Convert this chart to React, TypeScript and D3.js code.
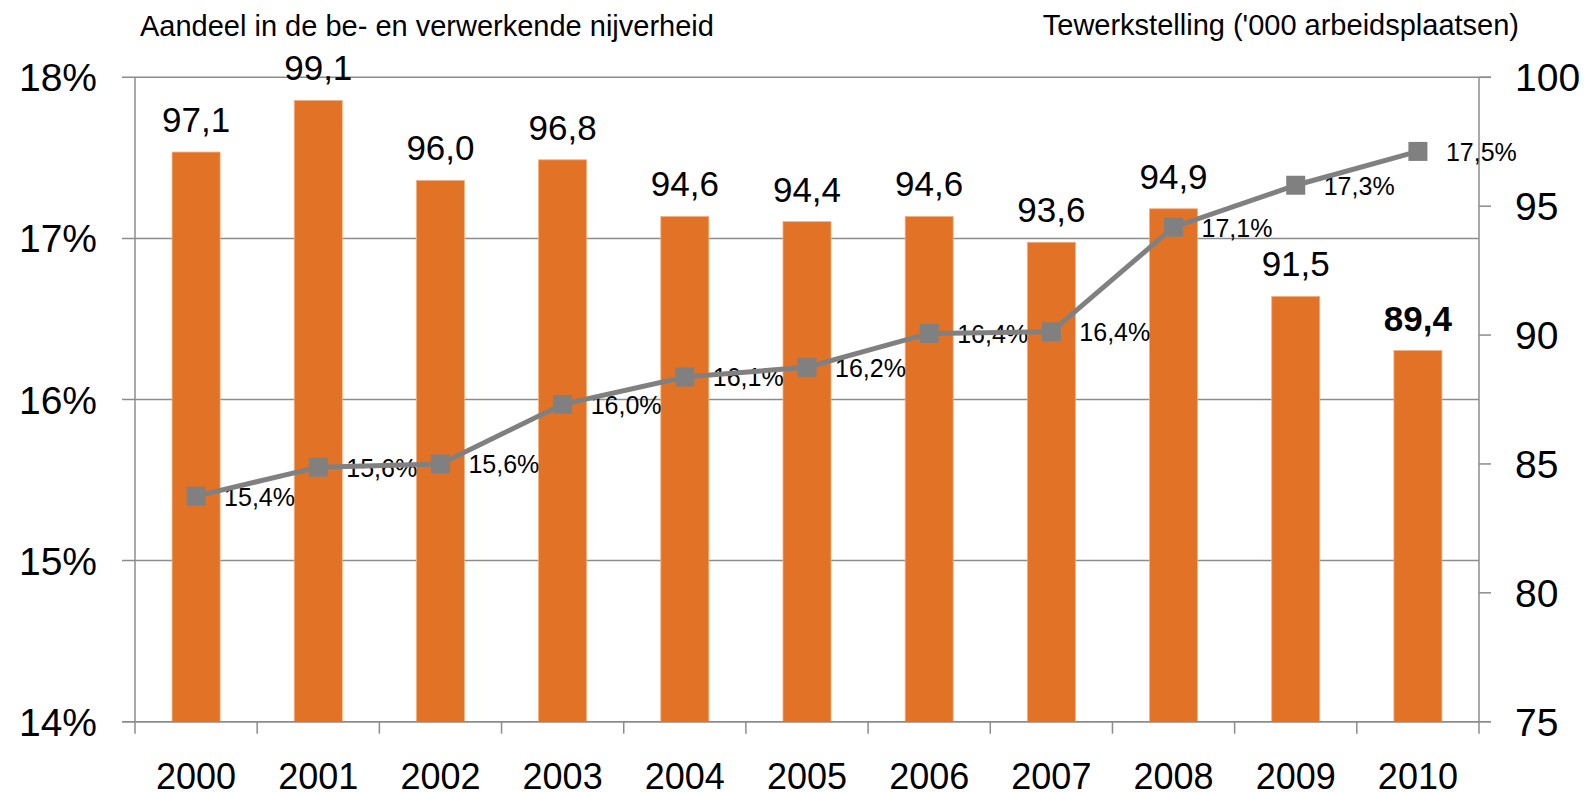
import React, { useEffect, useRef } from "react";
import * as d3 from "d3";

const years = ["2000", "2001", "2002", "2003", "2004", "2005", "2006", "2007", "2008", "2009", "2010"];
// employment ('000 jobs), right axis, bars
const employment = [97.1, 99.1, 96.0, 96.8, 94.6, 94.4, 94.6, 93.6, 94.9, 91.5, 89.4];
// share in manufacturing (%), left axis, line
const share = [15.4, 15.58, 15.6, 15.97, 16.14, 16.2, 16.41, 16.42, 17.07, 17.33, 17.54];
const leftTicks = [14, 15, 16, 17, 18];
const rightTicks = [75, 80, 85, 90, 95, 100];
const leftTitle = "Aandeel in de be- en verwerkende nijverheid";
const rightTitle = "Tewerkstelling ('000 arbeidsplaatsen)";

const W = 1595;
const H = 792;
const FONT = "'Liberation Sans', Arial, sans-serif";

const App = () => {
  const svgRef = useRef<SVGSVGElement>(null);

  useEffect(() => {
    const svg = d3.select(svgRef.current);
    svg.selectAll("*").remove();

    const left = 135;
    const right = 1479;
    const top = 77.3;
    const bottom = 721.7;

    const x = d3.scaleBand().domain(years).range([left, right]).padding(0);
    const barW = x.bandwidth() * 0.393;
    const yL = d3.scaleLinear().domain([14, 18]).range([bottom, top]);
    const yR = d3.scaleLinear().domain([75, 100]).range([bottom, top]);
    const comma = (v: number, f: string) => d3.format(f)(v).replace(".", ",");

    // gridlines (left axis)
    svg
      .append("g")
      .selectAll("line")
      .data(leftTicks)
      .enter()
      .append("line")
      .attr("x1", left - 13)
      .attr("x2", (d) => (d === 18 ? right + 12 : right))
      .attr("y1", (d) => yL(d))
      .attr("y2", (d) => yL(d))
      .attr("stroke", "#8c8c8c")
      .attr("stroke-width", 1.5);

    // bars
    svg
      .append("g")
      .selectAll("rect")
      .data(employment)
      .enter()
      .append("rect")
      .attr("x", (d, i) => x(years[i])! + (x.bandwidth() - barW) / 2)
      .attr("y", (d) => yR(d))
      .attr("width", barW)
      .attr("height", (d) => bottom - yR(d))
      .attr("fill", "#e27326")
      .attr("stroke", "#f3b07f")
      .attr("stroke-width", 0.8);

    // axes lines
    const ax = svg.append("g").attr("stroke", "#8c8c8c").attr("stroke-width", 1.5);
    ax.append("line").attr("x1", left).attr("x2", left).attr("y1", top).attr("y2", bottom);
    ax.append("line").attr("x1", right).attr("x2", right).attr("y1", top).attr("y2", bottom);
    ax.append("line").attr("x1", left - 13).attr("x2", right + 12).attr("y1", bottom).attr("y2", bottom);
    // right ticks
    ax.selectAll(".rt")
      .data(rightTicks)
      .enter()
      .append("line")
      .attr("x1", right)
      .attr("x2", right + 12)
      .attr("y1", (d) => yR(d))
      .attr("y2", (d) => yR(d));
    // bottom ticks at category boundaries
    ax.selectAll(".bt")
      .data([...years.map((y) => x(y)!), right])
      .enter()
      .append("line")
      .attr("x1", (d) => d)
      .attr("x2", (d) => d)
      .attr("y1", bottom)
      .attr("y2", bottom + 12);

    const txt = svg.append("g").attr("font-family", FONT).attr("fill", "#000");

    // left tick labels
    txt
      .selectAll(".lt")
      .data(leftTicks)
      .enter()
      .append("text")
      .attr("x", 97)
      .attr("y", (d) => yL(d) + 14)
      .attr("text-anchor", "end")
      .attr("font-size", 39)
      .text((d) => d + "%");

    // right tick labels
    txt
      .selectAll(".rl")
      .data(rightTicks)
      .enter()
      .append("text")
      .attr("x", 1515)
      .attr("y", (d) => yR(d) + 14)
      .attr("font-size", 39)
      .text((d) => d);

    // year labels
    txt
      .selectAll(".yl")
      .data(years)
      .enter()
      .append("text")
      .attr("x", (d) => x(d)! + x.bandwidth() / 2)
      .attr("y", 789)
      .attr("text-anchor", "middle")
      .attr("font-size", 36)
      .text((d) => d);

    // axis titles
    txt.append("text").attr("x", 140).attr("y", 36).attr("font-size", 29).text(leftTitle);
    txt
      .append("text")
      .attr("x", 1519)
      .attr("y", 35)
      .attr("text-anchor", "end")
      .attr("font-size", 29)
      .text(rightTitle);

    // bar value labels
    txt
      .selectAll(".bl")
      .data(employment)
      .enter()
      .append("text")
      .attr("x", (d, i) => x(years[i])! + x.bandwidth() / 2)
      .attr("y", (d) => yR(d) - 20)
      .attr("text-anchor", "middle")
      .attr("font-size", 35)
      .attr("font-weight", (d, i) => (i === years.length - 1 ? "bold" : "normal"))
      .text((d) => comma(d, ".1f"));

    // share line
    const cx = (i: number) => x(years[i])! + x.bandwidth() / 2;
    const line = d3
      .line<number>()
      .x((d, i) => cx(i))
      .y((d) => yL(d));
    svg
      .append("path")
      .datum(share)
      .attr("d", line)
      .attr("fill", "none")
      .attr("stroke", "#808080")
      .attr("stroke-width", 5);
    svg
      .append("g")
      .selectAll("rect")
      .data(share)
      .enter()
      .append("rect")
      .attr("x", (d, i) => cx(i) - 9.5)
      .attr("y", (d) => yL(d) - 9.5)
      .attr("width", 19)
      .attr("height", 19)
      .attr("fill", "#808080");

    // line value labels
    txt
      .selectAll(".ll")
      .data(share)
      .enter()
      .append("text")
      .attr("x", (d, i) => cx(i) + 28)
      .attr("y", (d) => yL(d) + 9.5)
      .attr("font-size", 25)
      .text((d) => comma(d, ".1f") + "%");
  }, []);

  return (
    <div style={{ position: "absolute", left: 0, top: 0 }}>
      <svg ref={svgRef} width={W} height={H} style={{ display: "block", background: "#fff" }} />
    </div>
  );
};

export default App;
